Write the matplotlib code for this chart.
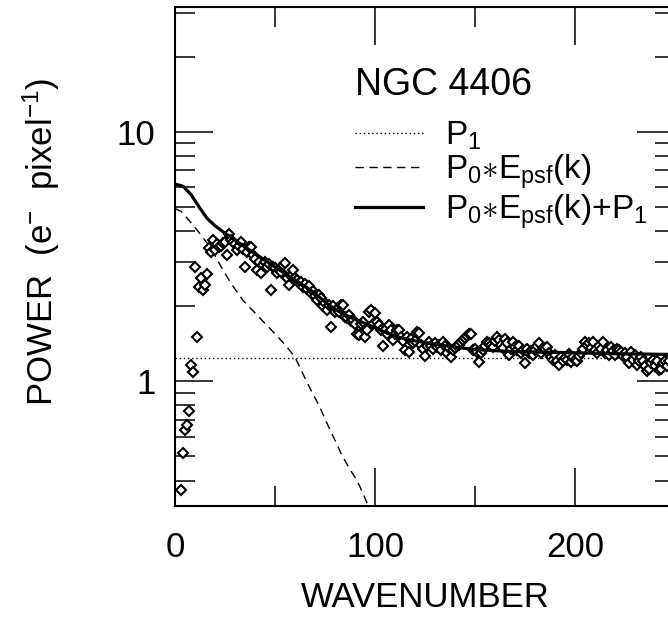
import numpy as np
import matplotlib
matplotlib.use("Agg")
import matplotlib.pyplot as plt
from matplotlib.ticker import LogLocator, FixedLocator, NullFormatter, FixedFormatter

plt.rcParams['font.family'] = ['Liberation Sans', 'DejaVu Sans']
plt.rcParams['mathtext.fontset'] = 'custom'
plt.rcParams['mathtext.rm'] = 'Liberation Sans'
plt.rcParams['mathtext.it'] = 'Liberation Sans'
plt.rcParams['mathtext.bf'] = 'Liberation Sans:bold'

# ---- data ----
title = "NGC 4406"
xlabel = "WAVENUMBER"
ylabel = r"POWER  (e$^{-}$  pixel$^{-1}$)"
x_ticks = [0, 100, 200]
y_ticks = [1, 10]
y_ticklabels = ["1", "10"]

# measured power spectrum (open diamonds)
k_data = [3, 4, 5, 6, 7, 8, 9, 10, 11, 12, 13, 14, 15, 16, 17, 18, 19, 20,
          21, 22, 23, 24, 25, 26, 27, 28, 29, 30, 31, 32, 33, 34, 35, 36, 37, 38, 39, 40,
          41, 42, 43, 44, 45, 46, 47, 48, 49, 50, 51, 52, 53, 54, 55, 56, 57, 58, 59, 60,
          61, 62, 63, 64, 65, 66, 67, 68, 69, 70, 71, 72, 73, 74, 75, 76, 77, 78, 79, 80,
          81, 82, 83, 84, 85, 86, 87, 88, 89, 90, 91, 92, 93, 94, 95, 96, 97, 98, 99, 100,
          101, 102, 103, 104, 105, 106, 107, 108, 109, 110, 111, 112, 113, 114, 115, 116, 117, 118, 119, 120,
          121, 122, 123, 124, 125, 126, 127, 128, 129, 130, 131, 132, 133, 134, 135, 136, 137, 138, 139, 140,
          141, 142, 143, 144, 145, 146, 147, 148, 149, 150, 151, 152, 153, 154, 155, 156, 157, 158, 159, 160,
          161, 162, 163, 164, 165, 166, 167, 168, 169, 170, 171, 172, 173, 174, 175, 176, 177, 178, 179, 180,
          181, 182, 183, 184, 185, 186, 187, 188, 189, 190, 191, 192, 193, 194, 195, 196, 197, 198, 199, 200,
          201, 202, 203, 204, 205, 206, 207, 208, 209, 210, 211, 212, 213, 214, 215, 216, 217, 218, 219, 220,
          221, 222, 223, 224, 225, 226, 227, 228, 229, 230, 231, 232, 233, 234, 235, 236, 237, 238, 239, 240,
          241, 242, 243, 244, 245, 246, 247]
p_data = [0.365, 0.515, 0.64, 0.67, 0.76, 1.16, 1.09, 2.88, 1.51, 2.39, 2.59, 2.32, 2.43, 2.69, 3.41, 3.30, 3.68, 3.36,
          3.55, 3.46, 3.50, 3.58, 3.62, 3.20, 3.90, 3.68, 3.62, 3.55, 3.36, 3.50, 3.62, 3.40, 2.88, 3.30, 3.46, 3.46, 3.20, 3.10,
          2.79, 3.00, 2.72, 2.92, 3.00, 2.88, 2.95, 2.32, 2.88, 2.85, 2.71, 2.80, 2.75, 2.92, 2.97, 2.60, 2.43, 2.65, 2.79, 2.60,
          2.55, 2.47, 2.50, 2.39, 2.45, 2.35, 2.40, 2.25, 2.30, 2.20, 2.11, 2.21, 2.15, 2.00, 2.05, 1.93, 2.02, 1.65, 2.00, 1.90,
          1.95, 1.90, 2.02, 2.02, 1.81, 1.80, 1.85, 1.75, 1.76, 1.70, 1.55, 1.53, 1.70, 1.73, 1.50, 1.60, 1.90, 1.93, 1.70, 1.87,
          1.73, 1.68, 1.60, 1.39, 1.60, 1.55, 1.68, 1.60, 1.46, 1.55, 1.60, 1.60, 1.50, 1.45, 1.33, 1.50, 1.31, 1.48, 1.42, 1.45,
          1.58, 1.56, 1.40, 1.35, 1.26, 1.38, 1.44, 1.39, 1.35, 1.42, 1.37, 1.40, 1.33, 1.44, 1.38, 1.30, 1.36, 1.25, 1.33, 1.36,
          1.38, 1.40, 1.43, 1.46, 1.49, 1.52, 1.55, 1.55, 1.33, 1.35, 1.31, 1.19, 1.30, 1.33, 1.38, 1.44, 1.42, 1.40, 1.37, 1.45,
          1.50, 1.47, 1.40, 1.36, 1.48, 1.42, 1.27, 1.35, 1.44, 1.37, 1.33, 1.38, 1.30, 1.33, 1.18, 1.35, 1.30, 1.32, 1.28, 1.33,
          1.39, 1.42, 1.30, 1.36, 1.35, 1.37, 1.30, 1.25, 1.22, 1.28, 1.21, 1.16, 1.25, 1.20, 1.24, 1.22, 1.29, 1.19, 1.25, 1.22,
          1.21, 1.26, 1.30, 1.35, 1.44, 1.40, 1.42, 1.36, 1.44, 1.33, 1.30, 1.38, 1.35, 1.44, 1.30, 1.33, 1.28, 1.37, 1.32, 1.28,
          1.35, 1.33, 1.31, 1.26, 1.30, 1.25, 1.18, 1.31, 1.22, 1.28, 1.16, 1.21, 1.25, 1.20, 1.15, 1.10, 1.12, 1.18, 1.22, 1.15,
          1.20, 1.11, 1.12, 1.18, 1.21, 1.15, 1.20]

# white-noise level P1 (dotted)
p1_level = 1.245
# P0 * E_psf(k) (dashed)
k_psf = [0, 3, 6, 11, 17.5, 23, 28, 34, 42.5, 51, 56, 60, 63, 67.5, 72, 76, 80, 83, 87, 91, 94, 96.7, 98]
p_psf = [4.92, 4.80, 4.51, 4.04, 3.46, 2.88, 2.47, 2.11, 1.79, 1.52, 1.37, 1.25, 1.11, 0.937, 0.80, 0.678, 0.58,
         0.514, 0.45, 0.40, 0.355, 0.315, 0.30]
# P0 * E_psf(k) + P1 (solid)
k_fit = [0, 4, 8, 12, 16, 20, 25, 30, 35, 40, 45, 50, 55, 60, 65, 70, 76, 82, 88, 94, 100, 106, 112, 118, 125,
         132, 140, 150, 165, 180, 200, 220, 250]
p_fit = [6.17, 6.05, 5.60, 5.00, 4.50, 4.20, 3.92, 3.68, 3.45, 3.25, 3.05, 2.87, 2.70, 2.55, 2.40, 2.25, 2.05, 1.90,
         1.80, 1.72, 1.64, 1.56, 1.50, 1.46, 1.43, 1.40, 1.37, 1.34, 1.32, 1.31, 1.30, 1.29, 1.28]

labels = [r"P$_1$", r"P$_0$$\ast$E$_{\rm psf}$(k)", r"P$_0$$\ast$E$_{\rm psf}$(k)+P$_1$"]

# ---- figure ----
W, H = 668, 619
fig = plt.figure(figsize=(W / 100, H / 100), dpi=100)
ax = fig.add_axes([175 / W, 1 - 506 / H, 500 / W, 499 / H])

ax.plot(k_data, p_data, linestyle='none', marker='D', markersize=5.5,
        markerfacecolor='white', markeredgecolor='black', markeredgewidth=1.5, zorder=3)
l1, = ax.plot([0, 250], [p1_level, p1_level], color='black', linestyle=(0, (1.0, 2.0)), linewidth=1.0)
l2, = ax.plot(k_psf, p_psf, color='black', linestyle=(0, (6, 4)), linewidth=1.0)
l3, = ax.plot(k_fit, p_fit, color='black', linestyle='-', linewidth=2.3, zorder=4)

ax.set_yscale('log')
ax.set_xlim(0, 250)
ax.set_ylim(10 ** -0.5, 10 ** 1.5)

ax.xaxis.set_major_locator(FixedLocator(x_ticks))
ax.xaxis.set_minor_locator(FixedLocator([50, 150, 250]))
ax.yaxis.set_major_locator(FixedLocator(y_ticks))
ax.yaxis.set_major_formatter(FixedFormatter(y_ticklabels))
ax.yaxis.set_minor_locator(LogLocator(base=10, subs=np.arange(2, 10)))
ax.yaxis.set_minor_formatter(NullFormatter())

ax.tick_params(which='both', direction='in', top=True, right=True, width=1.1, labelsize=25, pad=14)
ax.tick_params(which='major', length=27.4)
ax.tick_params(which='minor', length=14.4)
ax.tick_params(axis='x', which='major', pad=18)
for s in ax.spines.values():
    s.set_linewidth(1.5)

ax.set_xlabel(xlabel, fontsize=25, labelpad=12)
ax.set_ylabel(ylabel, fontsize=25)
ax.yaxis.set_label_coords(-0.226, 0.53)

ax.text(0.36, 0.8437, title, transform=ax.transAxes, fontsize=27, ha='left', va='center')
leg = ax.legend([l1, l2, l3], labels, loc='center left', bbox_to_anchor=(0.36, 0.663),
                frameon=False, fontsize=24, handlelength=2.04, handletextpad=0.66, labelspacing=0.03,
                borderpad=0, borderaxespad=0)

fig.savefig("out.png", dpi=100)
